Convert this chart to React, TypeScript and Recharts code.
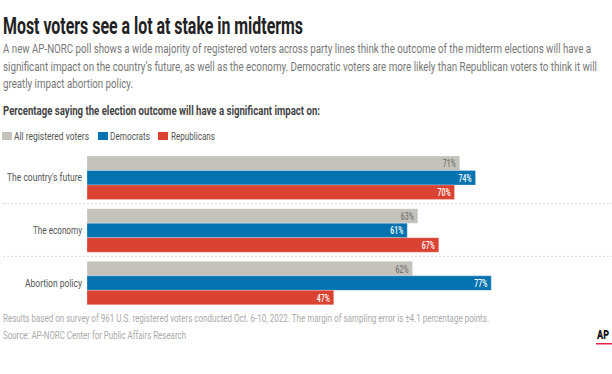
import React from "react";
import { BarChart, Bar, XAxis, YAxis, LabelList } from "recharts";

const categories = ["The country's future", "The economy", "Abortion policy"];
const allVoters = [71, 63, 62];
const democrats = [74, 61, 77];
const republicans = [70, 67, 47];
const seriesNames = ["All registered voters", "Democrats", "Republicans"];

const title = "Most voters see a lot at stake in midterms";
const descLines = [
  "A new AP-NORC poll shows a wide majority of registered voters across party lines think the outcome of the midterm elections will have a",
  "significant impact on the country\u2019s future, as well as the economy. Democratic voters are more likely than Republican voters to think it will",
  "greatly impact abortion policy.",
];
const subtitle = "Percentage saying the election outcome will have a significant impact on:";
const footLines = [
  "Results based on survey of 961 U.S. registered voters conducted Oct. 6-10, 2022. The margin of sampling error is \u00b14.1 percentage points.",
  "Source: AP-NORC Center for Public Affairs Research",
];

const data = categories.map((c, i) => ({
  name: c,
  all: allVoters[i],
  dem: democrats[i],
  rep: republicans[i],
}));

const COLORS = ["#c4c2ba", "#0573b0", "#da4232"];
const FONT = "Roboto, 'Noto Sans', sans-serif";

// layout constants (text widths to mimic the condensed typeface)
const descWidths = [588, 594, 130];
const footWidths = [486, 183];
const tickWidths: Record<string, number> = {
  "The country's future": 75,
  "The economy": 49,
  "Abortion policy": 57,
};
const legendLayout = [
  { sx: 2, tx: 14, tw: 75 },
  { sx: 98, tx: 110, tw: 40 },
  { sx: 158, tx: 171, tw: 44 },
];

const TOP = 151;
const BOTTOM = 65;
const H = 374;
const W = 612;
const band = (H - TOP - BOTTOM) / categories.length;

const YTick = (props: any) => {
  const { x, y, payload, index } = props;
  const v = payload.value as string;
  return (
    <g>
      <text
        x={x}
        y={y}
        dy={4}
        textAnchor="end"
        fontFamily={FONT}
        fontSize={11}
        fill="#555"
        textLength={tickWidths[v]}
        lengthAdjust="spacingAndGlyphs"
      >
        {v}
      </text>
      {index < categories.length - 1 && (
        <line
          x1={3}
          x2={W}
          y1={y + band / 2}
          y2={y + band / 2}
          stroke="#d8d8d8"
          strokeDasharray="2 2"
          strokeWidth={1}
        />
      )}
    </g>
  );
};

const makeLabel = (fill: string) => (props: any) => {
  const { x, y, width, height, value } = props;
  return (
    <text
      x={x + width - 4}
      y={y + height / 2}
      dy={4}
      textAnchor="end"
      fontFamily={FONT}
      fontSize={10.5}
      fontWeight={500}
      fill={fill}
      textLength={13}
      lengthAdjust="spacingAndGlyphs"
    >
      {value}%
    </text>
  );
};

export default function App() {
  return (
    <div
      style={{
        position: "fixed",
        left: 0,
        top: 0,
        width: W,
        height: H,
        background: "#fff",
        overflow: "hidden",
      }}
    >
      <div style={{ position: "absolute", left: 0, top: 0 }}>
        <BarChart
          width={W}
          height={H}
          data={data}
          layout="vertical"
          margin={{ top: TOP, right: 0, bottom: BOTTOM, left: 0 }}
          barGap={0}
          barSize={14.5}
        >
          <XAxis type="number" domain={[0, 100]} hide />
          <YAxis
            type="category"
            dataKey="name"
            width={87}
            axisLine={false}
            tickLine={false}
            tickSize={0}
            tickMargin={5}
            tick={<YTick />}
            interval={0}
          />
          <Bar dataKey="all" fill={COLORS[0]} isAnimationActive={false} stroke="#fff" strokeOpacity={0.5} strokeWidth={0.5}>
            <LabelList dataKey="all" content={makeLabel("#777777")} />
          </Bar>
          <Bar dataKey="dem" fill={COLORS[1]} isAnimationActive={false} stroke="#fff" strokeOpacity={0.5} strokeWidth={0.5}>
            <LabelList dataKey="dem" content={makeLabel("#ffffff")} />
          </Bar>
          <Bar dataKey="rep" fill={COLORS[2]} isAnimationActive={false} stroke="#fff" strokeOpacity={0.5} strokeWidth={0.5}>
            <LabelList dataKey="rep" content={makeLabel("#ffffff")} />
          </Bar>
        </BarChart>
      </div>
      <svg
        width={W}
        height={H}
        style={{ position: "absolute", left: 0, top: 0, pointerEvents: "none" }}
        fontFamily={FONT}
      >
        <text x={3} y={34} fontSize={23} fontWeight={700} fill="#222" textLength={300} lengthAdjust="spacingAndGlyphs">
          {title}
        </text>
        {descLines.map((l, i) => (
          <text key={i} x={3} y={53 + i * 17.5} fontSize={12} fill="#777" textLength={descWidths[i]} lengthAdjust="spacingAndGlyphs">
            {l}
          </text>
        ))}
        <text x={3} y={115} fontSize={12} fontWeight={700} fill="#444" textLength={317} lengthAdjust="spacingAndGlyphs">
          {subtitle}
        </text>
        {seriesNames.map((s, i) => (
          <g key={s}>
            <rect x={legendLayout[i].sx} y={132} width={10} height={8} fill={COLORS[i]} />
            <text x={legendLayout[i].tx} y={140} fontSize={11} fill="#555" textLength={legendLayout[i].tw} lengthAdjust="spacingAndGlyphs">
              {s}
            </text>
          </g>
        ))}
        {footLines.map((l, i) => (
          <text key={i} x={3} y={322 + i * 17} fontSize={11} fill="#aaa" textLength={footWidths[i]} lengthAdjust="spacingAndGlyphs">
            {l}
          </text>
        ))}
        <text x={597} y={339} fontSize={12} fontWeight={900} fill="#111" textLength={12} lengthAdjust="spacingAndGlyphs">
          AP
        </text>
        <rect x={596} y={343} width={16} height={1.5} fill="#e0264a" />
      </svg>
    </div>
  );
}
